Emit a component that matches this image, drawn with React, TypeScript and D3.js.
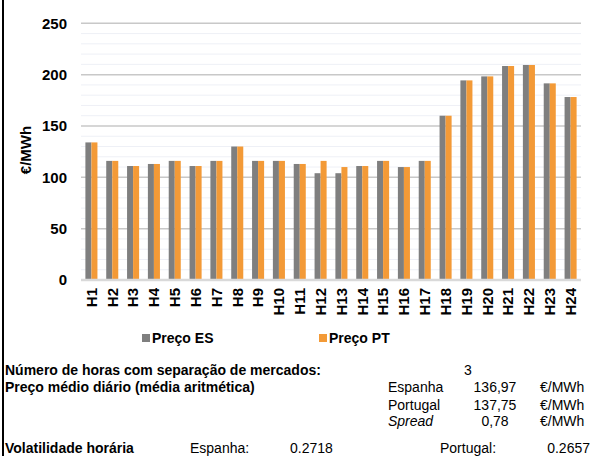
import * as d3 from "d3";

const hours = ["H1", "H2", "H3", "H4", "H5", "H6", "H7", "H8", "H9", "H10", "H11", "H12",
    "H13", "H14", "H15", "H16", "H17", "H18", "H19", "H20", "H21", "H22", "H23", "H24"];
const precoES = [134, 116, 111, 113, 116, 111, 116, 130, 116, 116, 113, 104,
    104, 111, 116, 110, 116, 160, 194.4, 198.3, 208.4, 209.4, 191.5, 178.2];
const precoPT = [134, 116, 111, 113, 116, 111, 116, 130, 116, 116, 113, 116,
    110, 111, 116, 110, 116, 160, 194.4, 198.3, 208.4, 209.4, 191.5, 178.2];
const yTicks = [0, 50, 100, 150, 200, 250];
const series = ["Preço ES", "Preço PT"];
const colors = ["#7f7f7f", "#f39a37"];

const font = "'Liberation Sans', Arial, sans-serif";

function App() {
    const width = 591;
    const height = 456;
    const plot = { left: 81, right: 581, top: 23.3, bottom: 280 };

    const x = d3.scaleBand().domain(hours).range([plot.left, plot.right]);
    const xInner = d3.scaleBand().domain(series).range([0, x.bandwidth()]).paddingOuter(0.73);
    const y = d3.scaleLinear().domain([0, 250]).range([plot.bottom, plot.top]);
    const minor = d3.range(0, 251, 10).filter(v => v % 50 !== 0);

    const values = [precoES, precoPT];

    return (
        <svg width={width} height={height} style={{ position: "absolute", left: 0, top: 0 }} fontFamily={font}>
            <rect x={0} y={0} width={width} height={height} fill="white" />
            <line x1={3} x2={3} y1={0} y2={height} stroke="black" strokeWidth={2} />

            {/* grelha */}
            {minor.map(v => (
                <line key={"m" + v} x1={plot.left} x2={plot.right} y1={y(v)} y2={y(v)} stroke="#eef0f6" strokeWidth={1} />
            ))}
            {yTicks.filter(v => v > 0).map(v => (
                <line key={"g" + v} x1={plot.left} x2={plot.right} y1={y(v)} y2={y(v)} stroke="#c8c8c8" strokeWidth={1.5} />
            ))}

            {/* barras */}
            {values.map((vals, s) => (
                <g key={s} fill={colors[s]}>
                    {vals.map((v, i) => (
                        <rect key={i} x={x(hours[i])! + xInner(series[s])!} y={y(v)} width={xInner.bandwidth()} height={y(0) - y(v)} />
                    ))}
                </g>
            ))}

            <line x1={plot.left} x2={plot.right} y1={y(0)} y2={y(0)} stroke="#d9d9d9" strokeWidth={2.5} />

            {/* eixo y */}
            {yTicks.map(v => (
                <text key={v} x={67} y={y(v)} dy="0.35em" textAnchor="end" fontSize={15} fontWeight="bold">{v}</text>
            ))}
            <text transform="translate(26,150) rotate(-90)" textAnchor="middle" dy="0.35em" fontSize={15} fontWeight="bold">€/MWh</text>

            {/* eixo x */}
            {hours.map(h => (
                <text key={h} transform={`translate(${x(h)! + x.bandwidth() / 2},288) rotate(-90)`} textAnchor="end" dy="0.35em" fontSize={15} fontWeight="bold">{h}</text>
            ))}

            {/* legenda */}
            {series.map((s, i) => (
                <g key={s} transform={`translate(${[142, 319][i]},334)`}>
                    <rect width={8} height={8} fill={colors[i]} />
                    <text x={10} y={4} dy="0.35em" fontSize={14} fontWeight="bold">{s}</text>
                </g>
            ))}

            {/* tabela */}
            <g fontSize={14}>
                <text x={5} y={375} fontWeight="bold">Número de horas com separação de mercados:</text>
                <text x={468} y={375} textAnchor="middle">3</text>
                <text x={5} y={392} fontWeight="bold">Preço médio diário (média aritmética)</text>
                <text x={388} y={392}>Espanha</text>
                <text x={495} y={392} textAnchor="middle">136,97</text>
                <text x={540} y={392}>€/MWh</text>
                <text x={388} y={410}>Portugal</text>
                <text x={495} y={410} textAnchor="middle">137,75</text>
                <text x={540} y={410}>€/MWh</text>
                <text x={388} y={426} fontStyle="italic">Spread</text>
                <text x={495} y={426} textAnchor="middle">0,78</text>
                <text x={540} y={426}>€/MWh</text>
                <text x={5} y={453} fontWeight="bold">Volatilidade horária</text>
                <text x={190} y={453}>Espanha:</text>
                <text x={290} y={453}>0.2718</text>
                <text x={440} y={453}>Portugal:</text>
                <text x={590} y={453} textAnchor="end">0.2657</text>
            </g>
        </svg>
    );
}

export default App;
